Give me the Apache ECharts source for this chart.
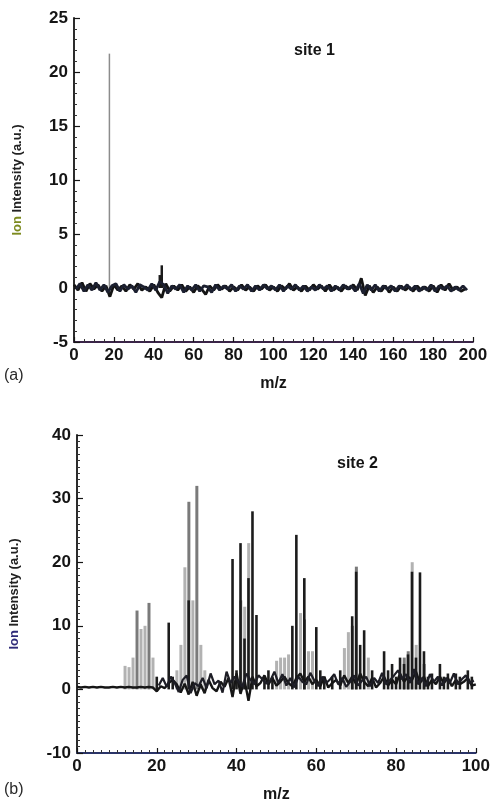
<!DOCTYPE html>
<html>
<head>
<meta charset="utf-8">
<script src="https://cdn.jsdelivr.net/npm/echarts@6/dist/echarts.min.js"></script>
<style>
  html, body { margin: 0; padding: 0; background: #ffffff; }
  #chart { width: 493px; height: 812px; }
</style>
</head>
<body>
<div id="chart"></div>
<script>
// ---- (a) site 1, m/z 0–200 ----
const site1Range = { xMin: 0, xMax: 200, xStep: 20, yMin: -5, yMax: 25, yStep: 5 };
// baseline trace A, sampled every 2 m/z from 0 to 196
const site1BaselineA = [
  0.3, -0.2, 0.5, -0.3, 0.4, -0.1, 0.3, -0.3, 0.2, -0.8,
  0.3, -0.2, 0.2, -0.3, 0.3, -0.1, 0.4, -0.2, 0.1, -0.3,
  0.3, -0.4, -0.9, 0.4, -0.3, 0.2, -0.2, 0.3, -0.3, 0.1,
  -0.4, 0.2, -0.1, -0.6, 0.2, -0.2, 0.3, -0.1, 0.2, -0.3,
  0.1, -0.2, 0.3, -0.2, 0.1, -0.3, 0.2, -0.1, 0.3, -0.2,
  0.1, -0.3, 0.2, -0.1, 0.4, -0.2, 0.1, -0.3, 0.2, -0.2,
  0.3, -0.1, 0.2, -0.3, 0.3, -0.2, 0.1, -0.3, 0.2, -0.1,
  0.3, -0.2, 0.9, -0.7, 0.2, -0.4, 0.1, -0.3, 0.2, -0.4,
  0.1, -0.3, 0.2, -0.2, 0.1, -0.3, 0.2, -0.2, 0.1, -0.3,
  0.2, -0.4, 0.3, -0.2, 0.4, -0.2, 0.1, -0.3, -0.1
];
// baseline trace B, sampled every 2 m/z from 1 to 197
const site1BaselineB = [
  -0.1, 0.4, -0.3, 0.3, -0.2, 0.5, -0.2, 0.3, -0.4, 0.2,
  0.4, -0.3, 0.3, -0.1, 0.2, -0.4, 0.3, 0.1, -0.2, 0.4,
  -0.2, 0.6, 0.3, -0.5, 0.2, -0.1, 0.3, -0.4, 0.2, -0.2,
  0.3, -0.3, 0.2, 0.1, -0.4, 0.3, -0.2, 0.2, -0.1, 0.3,
  -0.3, 0.2, -0.1, 0.3, -0.3, 0.2, -0.2, 0.3, -0.1, 0.2,
  -0.2, 0.3, -0.3, 0.2, -0.1, 0.3, -0.2, 0.2, -0.3, 0.1,
  -0.2, 0.3, -0.1, 0.2, -0.3, 0.2, -0.2, 0.3, -0.1, 0.2,
  -0.3, 0.4, -0.5, 0.3, -0.2, 0.3, -0.3, 0.2, -0.1, 0.2,
  -0.3, 0.2, -0.1, 0.3, -0.2, 0.2, -0.3, 0.1, -0.2, 0.3,
  -0.3, 0.2, -0.1, 0.2, -0.3, 0.1, -0.2, 0.2, -0.2
];
// discrete peaks [m/z, intensity]
const site1GrayPeaks = [[18, 21.7]];
const site1DarkPeaks = [[43, 1.2], [44, 2.1]];

// ---- (b) site 2, m/z 0–100 ----
const site2Range = { xMin: 0, xMax: 100, xStep: 20, yMin: -10, yMax: 40, yStep: 10 };
// baseline trace A, sampled every 1 m/z from 0 to 100
const site2BaselineA = [
  0.4, 0.3, 0.4, 0.3, 0.4, 0.3, 0.4, 0.3, 0.3, 0.4,
  0.3, 0.4, 0.3, 0.4, 0.3, 0.3, 0.4, 0.3, 0.4, 0.3,
  -0.3, 0.5, 0.2, 1.0, 1.5, 0.8, -0.5, 0.9, -0.8, 1.2,
  -1.0, 0.8, -0.6, 1.5, 0.2, -0.3, 1.2, 0.4, 1.8, -1.2,
  2.5, -0.7, 1.5, -1.8, 2.0, 0.5, 1.0, 2.2, 0.8, 1.8,
  0.6, 1.2, 2.0, 1.0, 0.5, 1.8, 2.5, 1.2, 2.0, 0.8,
  1.5, 0.5, 2.0, 0.3, 1.0, 1.5, 0.6, 2.2, 1.0, 2.0,
  0.8, 2.5, 1.2, 0.5, 1.8, 0.3, 1.0, 2.0, 0.6, 1.5,
  0.8, 2.5, 1.2, 2.0, 1.5, 2.8, 1.0, 2.0, 0.5, 1.5,
  0.8, 2.0, 1.0, 1.8, 0.5, 1.5, 0.8, 1.2, 1.8, 0.6,
  0.8
];
// baseline trace B, sampled every 1 m/z from 20.5 to 99.5
const site2BaselineB = [
  0.6, 1.8, 0.4, 2.0, 1.0, -0.4, 1.5, 2.2, -0.6, 1.0,
  0.5, 1.8, 0.2, 2.5, 0.8, 1.4, -0.5, 2.8, 1.0, 2.0,
  1.2, 0.4, 2.5, 1.5, 0.8, 2.2, 1.6, 0.9, 1.4, 2.8,
  1.0, 2.4, 0.6, 1.8, 0.3, 2.0, 1.2, 0.8, 2.6, 1.4,
  0.5, 2.0, 1.0, 1.6, 2.4, 0.8, 1.8, 0.4, 1.2, 2.2,
  0.6, 1.4, 2.0, 0.5, 1.8, 1.0, 2.6, 0.8, 1.5, 2.2,
  3.0, 1.6, 2.4, 1.0, 3.2, 0.8, 1.8, 0.5, 2.4, 1.2,
  2.0, 0.6, 1.8, 1.0, 2.5, 0.8, 1.6, 2.2, 1.0, 1.4
];
const site2LightPeaks = [
  [12, 3.7], [13, 3.5], [14, 5.0], [16, 9.5], [17, 10.0], [19, 5.0],
  [25, 3.0], [26, 7.0], [27, 19.2], [29, 14.0], [31, 7.0], [32, 3.0],
  [42, 13.0], [43, 23.0], [50, 4.5], [51, 5.0], [52, 5.0], [53, 5.5],
  [56, 12.0], [58, 6.0], [59, 6.0], [67, 6.5], [68, 9.0], [73, 5.0],
  [84, 20.0], [85, 7.0]
];
const site2MidPeaks = [
  [15, 12.4], [18, 13.6], [28, 29.5], [30, 32.0], [41, 14.0],
  [57, 11.0], [69, 10.0], [70, 19.3], [82, 5.0], [83, 6.0], [87, 4.0]
];
const site2DarkPeaks = [
  [20, 2.0], [23, 10.5], [24, 2.0], [28, 14.0], [39, 20.5], [40, 3.0],
  [41, 23.0], [42, 8.0], [43, 17.5], [44, 28.0], [45, 11.7], [47, 2.0],
  [48, 3.0], [49, 2.0], [54, 10.0], [55, 24.3], [57, 17.5], [60, 9.8],
  [61, 3.0], [62, 2.0], [64, 2.0], [66, 3.0], [69, 11.5], [70, 18.5],
  [71, 7.0], [72, 9.3], [74, 3.0], [77, 6.0], [78, 3.0], [79, 4.0],
  [80, 2.0], [81, 5.0], [82, 4.0], [83, 5.5], [84, 18.5], [85, 5.0],
  [86, 18.4], [87, 6.0], [88, 2.0], [89, 2.5], [91, 4.0], [92, 2.0],
  [93, 2.5], [95, 2.5], [96, 2.0], [98, 3.0], [99, 2.0]
];

const FONT = "'Liberation Sans', Arial, sans-serif";
const INK = '#151515';

// turn a sampled trace into [m/z, value] pairs
function toPairs(values, start, step) {
  return values.map((v, i) => [start + i * step, v]);
}

function makeXAxis(gridIndex, r, minorSplit, lineColor) {
  return {
    type: 'value', gridIndex: gridIndex,
    min: r.xMin, max: r.xMax, interval: r.xStep,
    name: 'm/z', nameLocation: 'middle', nameGap: 34,
    nameTextStyle: { fontFamily: FONT, fontSize: 16, fontWeight: 'bold', color: INK },
    axisLine: { onZero: false, lineStyle: { color: lineColor, width: 1.8 } },
    axisTick: { inside: true, length: 5, lineStyle: { color: INK, width: 1.2 } },
    minorTick: { show: true, splitNumber: minorSplit, length: 3, lineStyle: { color: '#333', width: 1 } },
    axisLabel: { fontFamily: FONT, fontSize: 17, fontWeight: 'bold', color: INK, margin: 5 },
    splitLine: { show: false }
  };
}

function makeYAxis(gridIndex, r, minorSplit, ionColor, gap) {
  return {
    type: 'value', gridIndex: gridIndex,
    min: r.yMin, max: r.yMax, interval: r.yStep,
    name: '{ion|Ion} Intensity (a.u.)', nameLocation: 'middle', nameGap: gap,
    nameTextStyle: {
      fontFamily: FONT, fontSize: 13, fontWeight: 'bold', color: '#222',
      rich: { ion: { fontFamily: FONT, fontSize: 13, fontWeight: 'bold', color: ionColor } }
    },
    axisLine: { show: true, lineStyle: { color: INK, width: 1.8 } },
    axisTick: { inside: true, length: 6, lineStyle: { color: INK, width: 1.2 } },
    minorTick: { show: true, splitNumber: minorSplit, length: 3, lineStyle: { color: '#333', width: 1 } },
    axisLabel: { fontFamily: FONT, fontSize: 17, fontWeight: 'bold', color: INK, margin: 6 },
    splitLine: { show: false }
  };
}

function peakSeries(xi, data, color, width, z) {
  return {
    type: 'bar', xAxisIndex: xi, yAxisIndex: xi,
    data: data, barWidth: width, barGap: '-100%',
    itemStyle: { color: color }, z: z, silent: true, animation: false
  };
}

function baselineSeries(xi, data, color, width) {
  return {
    type: 'line', xAxisIndex: xi, yAxisIndex: xi,
    data: data, showSymbol: false, symbol: 'none',
    lineStyle: { color: color, width: width }, z: 5, silent: true, animation: false
  };
}

const chart = echarts.init(document.getElementById('chart'), null, { renderer: 'canvas' });

chart.setOption({
  backgroundColor: '#ffffff',
  animation: false,
  grid: [
    { left: 74, top: 18, width: 399, height: 324 },
    { left: 74, top: 435, width: 403, height: 318 }
  ],
  title: [
    { text: 'site 1', left: 289, top: 38, textStyle: { fontFamily: FONT, fontSize: 16, fontWeight: 'bold', color: INK } },
    { text: 'site 2', left: 332, top: 451, textStyle: { fontFamily: FONT, fontSize: 16, fontWeight: 'bold', color: INK } }
  ],
  graphic: [
    { type: 'text', left: 4, top: 368, style: { text: '(a)', font: '16px ' + FONT, fill: '#2a2a2a' } },
    { type: 'text', left: 4, top: 782, style: { text: '(b)', font: '16px ' + FONT, fill: '#2a2a2a' } }
  ],
  xAxis: [
    makeXAxis(0, site1Range, 4, '#3a2448'),
    makeXAxis(1, site2Range, 10, '#2a3468')
  ],
  yAxis: [
    makeYAxis(0, site1Range, 5, '#7c8a1e', 50),
    makeYAxis(1, site2Range, 10, '#2e2a78', 56)
  ],
  series: [
    peakSeries(0, site1GrayPeaks, '#8c8c8c', 1.5, 2),
    peakSeries(0, site1DarkPeaks, '#1a1a1a', 2.5, 3),
    baselineSeries(0, toPairs(site1BaselineA, 0, 2), '#141414', 2.8),
    baselineSeries(0, toPairs(site1BaselineB, 1, 2), '#1c2030', 2.8),

    peakSeries(1, site2LightPeaks, '#b2b2b2', 3, 2),
    peakSeries(1, site2MidPeaks, '#7a7a7a', 3, 3),
    peakSeries(1, site2DarkPeaks, '#1c1c1c', 2.6, 4),
    baselineSeries(1, toPairs(site2BaselineA, 0, 1), '#161616', 2.4),
    baselineSeries(1, toPairs(site2BaselineB, 20.5, 1), '#1e1e26', 2.2)
  ]
});
</script>
</body>
</html>
